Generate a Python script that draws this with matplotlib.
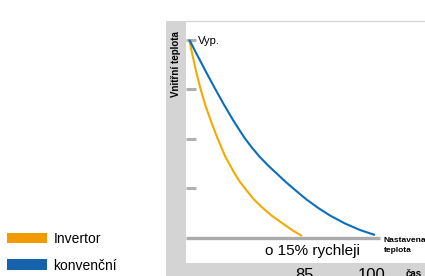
import matplotlib
matplotlib.use("Agg")
import matplotlib.pyplot as plt
from matplotlib.patches import Rectangle, Patch

W, H = 425, 276

series_names = ["Invertor", "konvenční"]
# time (arbitrary units from axis origin) and temperature above set point
invertor_t = [3.3, 6.4, 10.1, 14.3, 19.2, 25, 31.4, 39.3, 48.5, 54, 60.3, 67.5, 75.3,
              85.5, 96.5, 106, 116]
invertor_v = [198.3, 183.3, 166.7, 150, 133.3, 116.7, 100, 81.3, 64.7, 56, 48, 39, 31.3,
              22.5, 14.7, 8, 2]
konv_t = [3.3, 11, 19.7, 28.7, 38, 47.8, 58.6, 66, 73.6, 82, 90.5, 99.8, 109.1, 120.5,
          133, 144, 159, 174, 189]
konv_v = [198.3, 183.3, 166.7, 150, 133.3, 116.7, 100, 90.3, 81.3, 72.6, 64.7, 56, 48, 38.5,
          29.5, 22.5, 14.5, 8, 3]
ytick_vals = [198, 149, 99, 50]
ytick_labels = ["Vyp.", "", "", ""]
xtick_vals = [119, 186]
xtick_labels = ["85", "100"]

orange = "#F4AA00"
blue = "#0A6EBD"
leg_orange = "#F29B00"
leg_blue = "#1762AD"
band = "#D4D4D4"

plt.rcParams["font.family"] = ["Liberation Sans", "DejaVu Sans"]

fig = plt.figure(figsize=(W / 100, H / 100), dpi=100)

def fx(px):
    return px / W

def fy(py):
    return 1 - py / H

# gray L-shaped band
fig.patches.append(Rectangle((fx(166), fy(276)), fx(186) - fx(166), fy(21) - fy(276),
                             transform=fig.transFigure, facecolor=band, edgecolor="none", zorder=-5))
fig.patches.append(Rectangle((fx(166), fy(276)), fx(425) - fx(166), fy(263) - fy(276),
                             transform=fig.transFigure, facecolor=band, edgecolor="none", zorder=-5))

ax = fig.add_axes([fx(186), fy(238), fx(425) - fx(186), fy(21) - fy(238)])
ax.set_xlim(0, 239)
ax.set_ylim(0, 217)
for s in ["left", "right", "bottom"]:
    ax.spines[s].set_visible(False)
ax.spines["top"].set_color("#D6D6D6")
ax.spines["top"].set_linewidth(1.0)
ax.patch.set_alpha(0)

ax.plot(invertor_t, invertor_v, color=orange, lw=1.5, solid_capstyle="butt", zorder=3)
ax.plot(konv_t, konv_v, color=blue, lw=1.5, solid_capstyle="butt", zorder=3)

# base line (set temperature)
ax.hlines(0, 0, 194, color="#ABABAB", lw=2.4, zorder=2, clip_on=False)

ax.set_yticks(ytick_vals)
ax.tick_params(axis="y", direction="in", length=7.2, width=2.2, color="#B0B0B0",
               labelleft=False)
ax.set_xticks([])
ax.text(12, ytick_vals[0] - 1, ytick_labels[0], fontsize=8, va="center", ha="left", color="black")

for xv, lab in zip(xtick_vals, xtick_labels):
    ax.text(xv, -0.175, lab, transform=ax.get_xaxis_transform(), fontsize=12,
            ha="center", va="center", clip_on=False)
ax.text(220, -0.165, "čas", transform=ax.get_xaxis_transform(), fontsize=7,
        ha="left", va="center", fontweight="bold", clip_on=False)

ax.text(126, -0.06, "o 15% rychleji", transform=ax.get_xaxis_transform(), fontsize=11,
        ha="center", va="center", clip_on=False)
ax.text(198, 0.5, "Nastavena\nteplota", fontsize=6, fontweight="bold", ha="left", va="top",
        linespacing=1.4, clip_on=False)

fig.text(fx(176), fy(64), "Vnitřní teplota", rotation=90, ha="center", va="center",
         fontsize=7, fontweight="bold")

handles = [Patch(facecolor=leg_orange, edgecolor="none"), Patch(facecolor=leg_blue, edgecolor="none")]
fig.legend(handles, series_names, loc="upper left", bbox_to_anchor=(fx(7), fy(232)),
           frameon=False, fontsize=10, handlelength=2.9, handleheight=0.8,
           handletextpad=0.45, labelspacing=0.9, borderpad=0, borderaxespad=0)

fig.savefig("out.png", dpi=100)
